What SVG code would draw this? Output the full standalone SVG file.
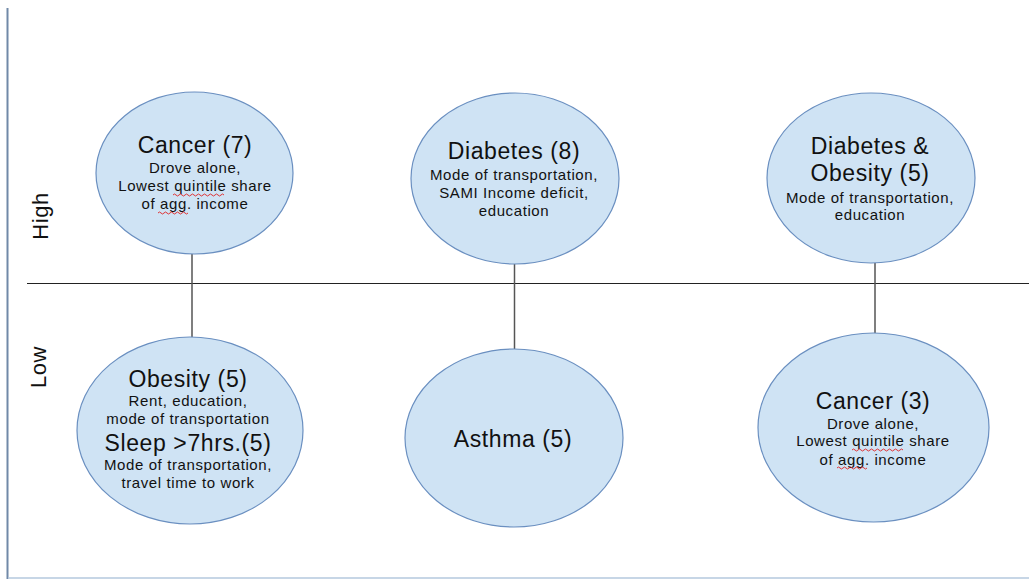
<svg xmlns="http://www.w3.org/2000/svg" width="1029" height="579" viewBox="0 0 1029 579">
<style>
.node ellipse{fill:#cfe3f4;stroke:#6a8fc0;stroke-width:1.2}
text{font-family:"Liberation Sans",Arial,sans-serif;fill:#111;text-anchor:middle}
.t{font-size:23px;letter-spacing:0.6px}
.s{font-size:15px;letter-spacing:0.6px}
.ax{font-size:22px;letter-spacing:0.5px}
.conn line{stroke:#555;stroke-width:1.5}
.sq{fill:none;stroke:#e02020;stroke-width:0.9}
</style>
<rect x="0" y="0" width="1029" height="579" fill="#ffffff"/>
<line x1="7.5" y1="8" x2="7.5" y2="579" stroke="#7189a8" stroke-width="2"/>
<line x1="8" y1="578" x2="1029" y2="578" stroke="#b4c8de" stroke-width="1.5"/>
<line x1="27" y1="283.5" x2="1029" y2="283.5" stroke="#222" stroke-width="1.2"/>
<text class="ax" transform="translate(48,216) rotate(-90)">High</text>
<text class="ax" transform="translate(46,367) rotate(-90)">Low</text>
<g id="connectors" class="conn">
<line x1="192" y1="254" x2="192" y2="337"/>
<line x1="514.5" y1="264" x2="514.5" y2="349"/>
<line x1="875" y1="263" x2="875" y2="333"/>
</g>
<g id="cancer7" class="node">
<ellipse cx="194.5" cy="173" rx="98.5" ry="81"/>
<text class="t" x="195" y="153">Cancer (7)</text>
<text class="s" x="195" y="173">Drove alone,</text>
<text class="s" x="195" y="191">Lowest quintile share</text>
<text class="s" x="195" y="209">of agg. income</text>
<path class="sq" d="M173 195 q1.5 -2 3 0 t3 0 t3 0 t3 0 t3 0 t3 0 t3 0 t3 0 t3 0 t3 0 t3 0 t3 0 t3 0 t3 0 t3 0 t3 0 t3 0"/>
<path class="sq" d="M158 213 q1.5 -2 3 0 t3 0 t3 0 t3 0 t3 0 t3 0 t3 0 t3 0 t3 0 t3 0"/>
</g>
<g id="diabetes8" class="node">
<ellipse cx="515" cy="178.5" rx="104" ry="85.5"/>
<text class="t" x="514" y="159">Diabetes (8)</text>
<text class="s" x="514" y="180">Mode of transportation,</text>
<text class="s" x="514" y="197.5">SAMI Income deficit,</text>
<text class="s" x="514" y="215.5">education</text>
</g>
<g id="diabetesobesity5" class="node">
<ellipse cx="871" cy="178" rx="104" ry="85"/>
<text class="t" x="870" y="153.5">Diabetes &amp;</text>
<text class="t" x="870" y="180.5">Obesity (5)</text>
<text class="s" x="870" y="202.5">Mode of transportation,</text>
<text class="s" x="870" y="219.5">education</text>
</g>
<g id="obesity5" class="node">
<ellipse cx="190" cy="430.5" rx="113" ry="93.5"/>
<text class="t" x="188" y="387">Obesity (5)</text>
<text class="s" x="188" y="406">Rent, education,</text>
<text class="s" x="188" y="423.5">mode of transportation</text>
<text class="t" x="188" y="451">Sleep &gt;7hrs.(5)</text>
<text class="s" x="188" y="470">Mode of transportation,</text>
<text class="s" x="188" y="487.5">travel time to work</text>
</g>
<g id="asthma5" class="node">
<ellipse cx="514" cy="438" rx="109" ry="89"/>
<text class="t" x="513" y="446.5">Asthma (5)</text>
</g>
<g id="cancer3" class="node">
<ellipse cx="873.5" cy="427.5" rx="115.5" ry="94.5"/>
<text class="t" x="873" y="408.5">Cancer (3)</text>
<text class="s" x="873" y="428.5">Drove alone,</text>
<text class="s" x="873" y="446">Lowest quintile share</text>
<text class="s" x="873" y="464.5">of agg. income</text>
<path class="sq" d="M852 450 q1.5 -2 3 0 t3 0 t3 0 t3 0 t3 0 t3 0 t3 0 t3 0 t3 0 t3 0 t3 0 t3 0 t3 0 t3 0 t3 0 t3 0 t3 0"/>
<path class="sq" d="M837 468 q1.5 -2 3 0 t3 0 t3 0 t3 0 t3 0 t3 0 t3 0 t3 0 t3 0 t3 0"/>
</g>
</svg>
